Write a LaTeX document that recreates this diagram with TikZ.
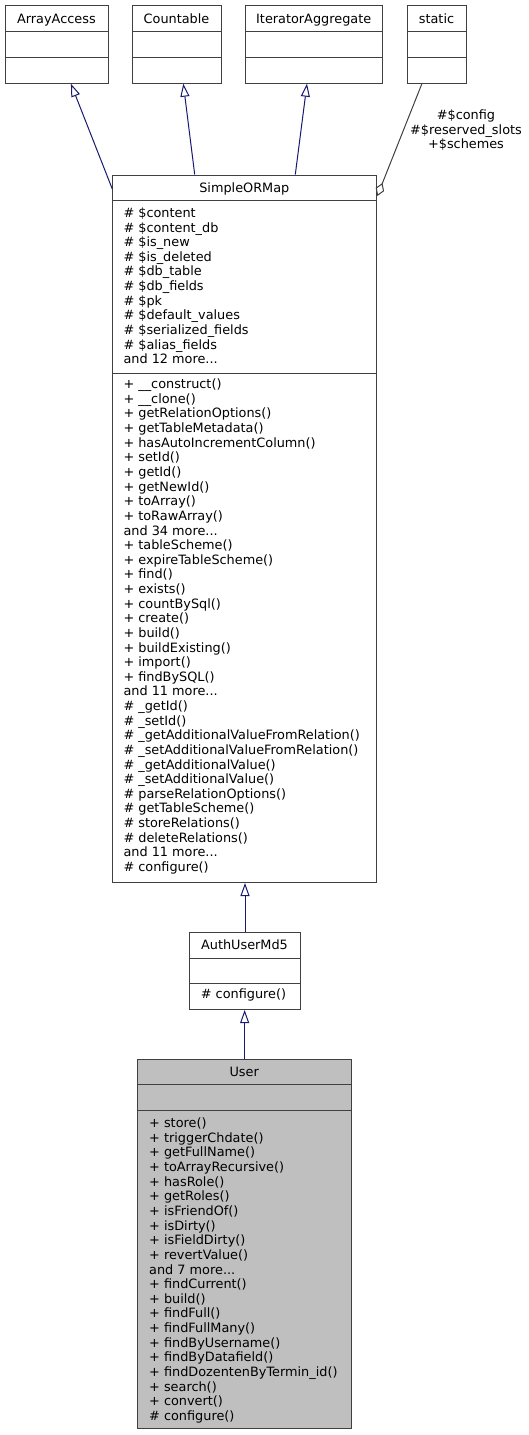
\documentclass[tikz,border=0pt]{standalone}
\usepackage{fontspec}
\setmainfont{DejaVu Sans}
\usetikzlibrary{arrows.meta,calc}
\definecolor{bordergray}{HTML}{404040}
\definecolor{inhblue}{HTML}{191970}
\definecolor{userfill}{HTML}{BFBFBF}
\newcommand\fsz{\fontsize{12.85}{14.63}\selectfont}
\newcommand\fl{\rule{0pt}{11pt}}
\begin{document}
\begin{tikzpicture}[x=1pt,y=-1pt,
  cls/.style={draw=bordergray,line width=1pt,inner sep=0,anchor=north west},
  divline/.style={draw=bordergray,line width=1pt},
  ttl/.style={anchor=base,inner sep=0,font=\fsz},
  txt/.style={anchor=north west,inner sep=0,align=left,font=\fsz},
  inh/.style={draw=inhblue,line width=1pt,-{Triangle[open,length=13pt,width=9pt]}},
  agg/.style={draw=bordergray,line width=1pt,-{Diamond[open,length=14pt,width=9pt]}},
  lbl/.style={anchor=north,inner sep=0,align=center,font=\fsz}]
\useasboundingbox (0,0) rectangle (529,1435);

% ---- top row ----
\node[cls,minimum width=102.6pt,minimum height=77.3pt] (aa) at (5.1,5.4) {};
\node[cls,minimum width=88.4pt,minimum height=77.3pt] (cnt) at (132.3,5.4) {};
\node[cls,minimum width=137.4pt,minimum height=77.3pt] (ia) at (245,5.4) {};
\node[cls,minimum width=59pt,minimum height=77.3pt] (st) at (407,5.4) {};
\foreach \n in {aa,cnt,ia,st}{
  \draw[divline] ($(\n.north west)+(0,26.3)$) -- ($(\n.north east)+(0,26.3)$);
  \draw[divline] ($(\n.north west)+(0,52)$) -- ($(\n.north east)+(0,52)$);
}
\node[ttl] (aat) at (56.4,23.2) {ArrayAccess};
\node[ttl] (cntt) at (176.5,23.2) {Countable};
\node[ttl] (iat) at (313.7,23.2) {IteratorAggregate};
\node[ttl] (stt) at (436.5,23.2) {static};

% ---- SimpleORMap ----
\node[cls,minimum width=264pt,minimum height=707.5pt] (som) at (112.3,174.5) {};
\draw[divline] (112.3,200.5) -- (376.3,200.5);
\draw[divline] (112.3,373) -- (376.3,373);
\node[ttl] (somt) at (244.3,192.2) {SimpleORMap};
\node[txt] (soma) at (123.3,206.2) {\fl\# \$content\\
\# \$content\_db\\
\# \$is\_new\\
\# \$is\_deleted\\
\# \$db\_table\\
\# \$db\_fields\\
\# \$pk\\
\# \$default\_values\\
\# \$serialized\_fields\\
\# \$alias\_fields\\
and 12 more...};
\node[txt] (somm) at (123.3,377.5) {\fl+ \_\_construct()\\
+ \_\_clone()\\
+ getRelationOptions()\\
+ getTableMetadata()\\
+ hasAutoIncrementColumn()\\
+ setId()\\
+ getId()\\
+ getNewId()\\
+ toArray()\\
+ toRawArray()\\
and 34 more...\\
+ tableScheme()\\
+ expireTableScheme()\\
+ find()\\
+ exists()\\
+ countBySql()\\
+ create()\\
+ build()\\
+ buildExisting()\\
+ import()\\
+ findBySQL()\\
and 11 more...\\
\# \_getId()\\
\# \_setId()\\
\# \_getAdditionalValueFromRelation()\\
\# \_setAdditionalValueFromRelation()\\
\# \_getAdditionalValue()\\
\# \_setAdditionalValue()\\
\# parseRelationOptions()\\
\# getTableScheme()\\
\# storeRelations()\\
\# deleteRelations()\\
and 11 more...\\
\# configure()};

% ---- AuthUserMd5 ----
\node[cls,minimum width=111pt,minimum height=77pt] (aum) at (189,932) {};
\draw[divline] (189,958) -- (300,958);
\draw[divline] (189,983) -- (300,983);
\node[ttl] (aumt) at (244.5,949.7) {AuthUserMd5};
\node[txt] (aumm) at (200.7,987.5) {\fl\# configure()};

% ---- User ----
\node[cls,fill=userfill,minimum width=213.7pt,minimum height=369pt] (usr) at (137.3,1059) {};
\draw[divline] (137.3,1084.3) -- (351,1084.3);
\draw[divline] (137.3,1110) -- (351,1110);
\node[ttl] (usrt) at (244.15,1076.4) {User};
\node[txt] (usrm) at (149,1116.5) {\fl+ store()\\
+ triggerChdate()\\
+ getFullName()\\
+ toArrayRecursive()\\
+ hasRole()\\
+ getRoles()\\
+ isFriendOf()\\
+ isDirty()\\
+ isFieldDirty()\\
+ revertValue()\\
and 7 more...\\
+ findCurrent()\\
+ build()\\
+ findFull()\\
+ findFullMany()\\
+ findByUsername()\\
+ findByDatafield()\\
+ findDozentenByTermin\_id()\\
+ search()\\
+ convert()\\
\# configure()};

% ---- connectors ----
\draw[inh] ($(som.north west)+(0,14.5)$) -- ($(aa.south west)+(65.8,0)$);
\draw[inh] ($(som.north west)+(82.4,0)$) -- ($(cnt.south west)+(51,0)$);
\draw[inh] ($(som.north west)+(183,0)$) -- ($(ia.south west)+(62,0)$);
\draw[agg] ($(st.south west)+(14.9,0)$) -- ($(som.north east)+(0,21.5)$);
\node[lbl] (agglbl) at (466,108.2) {\fl\#\$config\\\#\$reserved\_slots\\+\$schemes};
\draw[inh] (aum.north) -- (aum.north |- som.south);
\draw[inh] (usr.north) -- (usr.north |- aum.south);
\end{tikzpicture}
\end{document}
